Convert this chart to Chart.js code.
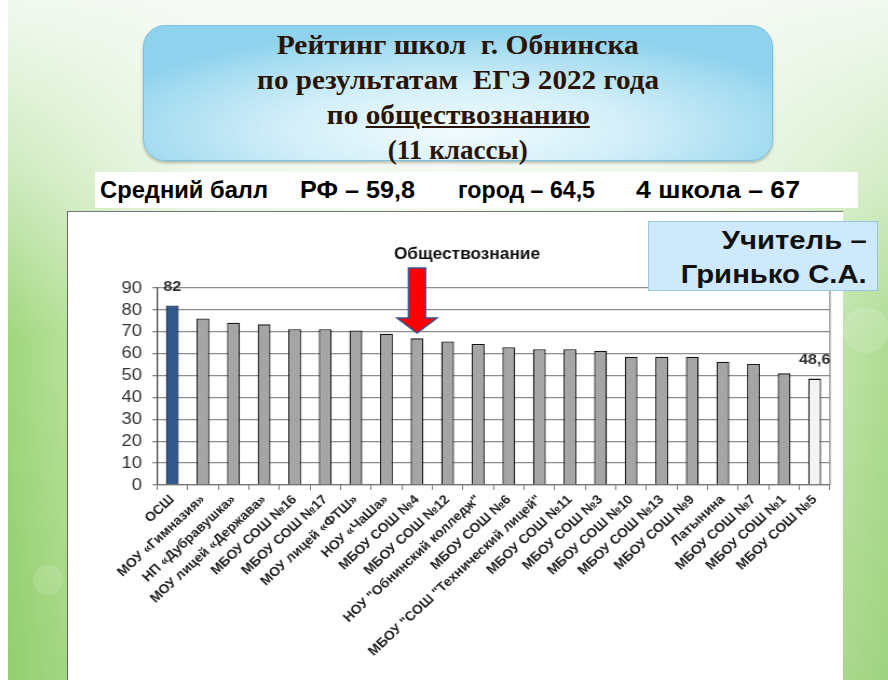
<!DOCTYPE html>
<html lang="ru"><head><meta charset="utf-8">
<script src="https://cdn.jsdelivr.net/npm/chart.js@4.4.0/dist/chart.umd.min.js"></script>
<style>
html,body{margin:0;padding:0}
body{width:888px;height:680px;overflow:hidden;position:relative;font-family:"Liberation Sans",Arial,sans-serif;
 background:
  radial-gradient(circle at 866px 330px, rgba(255,255,255,0.14) 0, rgba(255,255,255,0.14) 22px, rgba(255,255,255,0) 24px),
  radial-gradient(circle at 48px 580px, rgba(255,255,255,0.12) 0, rgba(255,255,255,0.12) 14px, rgba(255,255,255,0) 16px),
  linear-gradient(to bottom, rgba(246,251,246,0.95) 0%, rgba(246,251,246,0.55) 25%, rgba(246,251,246,0) 50%),
  linear-gradient(to top, rgba(110,185,70,0.25) 0%, rgba(110,185,70,0) 45%),
  linear-gradient(to right, #9bd578 0%, #b3df95 7%, #e4f3dc 22%, #f3f9f0 50%, #dff1d6 80%, #bfe4a8 94%, #aedc92 100%);}
#lstrip{position:absolute;left:0;top:0;width:8px;height:680px;background:#fff}
#header{position:absolute;left:143px;top:25px;width:630px;height:136px;border-radius:22px;box-sizing:border-box;
 border:1.5px solid #7cc2df;box-shadow:0 2px 3px rgba(0,0,0,0.25);
 background:radial-gradient(ellipse 60% 75% at 50% 78%, #f2fbfe 0%, #d3eff9 45%, #a3dbf1 85%, #8fd2ee 100%);
 font-family:"Liberation Serif","Times New Roman",serif;font-weight:bold;color:#2a1406;text-align:center}
#header .ln{position:absolute;left:0;width:100%;font-size:27px;line-height:35px;white-space:pre}
#sub{position:absolute;left:95px;top:172px;width:763px;height:36px;background:#fff}
#sub span{position:absolute;top:0;font-weight:bold;font-size:24px;line-height:36px;color:#000;white-space:pre;transform-origin:0 50%}
#chartbox{position:absolute;left:67px;top:211px;width:776px;height:469px;background:#fff;border-left:1.5px solid #666;border-top:1.5px solid #777;box-sizing:border-box}
#c{position:absolute;left:-1.5px;top:-0.5px;transform-origin:0 0}
#teacher{position:absolute;left:648px;top:221px;width:230px;height:70px;box-sizing:border-box;background:#cde9fb;border:1px solid #98c6e6}
#teacher span{position:absolute;right:10px;font-weight:bold;font-size:25px;color:#111;white-space:pre;transform-origin:100% 50%;line-height:28px}
</style></head>
<body>
<div id="lstrip"></div>
<div id="header">
 <div class="ln" style="top:2px"><span class="fit" data-w="362">Рейтинг школ  г. Обнинска</span></div>
 <div class="ln" style="top:37px"><span class="fit" data-w="402">по результатам  ЕГЭ 2022 года</span></div>
 <div class="ln" style="top:72px"><span class="fit" data-w="263">по <u>обществознанию</u></span></div>
 <div class="ln" style="top:107px"><span class="fit" data-w="140">(11 классы)</span></div>
</div>
<div id="sub">
 <span class="fit" data-w="168" style="left:5px">Средний балл</span>
 <span class="fit" data-w="115" style="left:205px">РФ – 59,8</span>
 <span class="fit" data-w="137" style="left:363px">город – 64,5</span>
 <span class="fit" data-w="164" style="left:541px">4 школа – 67</span>
</div>
<div id="chartbox"><canvas id="c" width="719" height="469"></canvas></div>
<div id="teacher">
 <span class="fit" data-w="145" style="top:4px">Учитель –</span>
 <span class="fit" data-w="186" style="top:38px">Гринько С.А.</span>
</div>
<script>
// ---- data ----
const categories = ['ОСШ','МОУ «Гимназия»','НП «Дубравушка»','МОУ лицей «Держава»','МБОУ СОШ №16','МБОУ СОШ №17',
  'МОУ лицей «ФТШ»','НОУ «ЧаШа»','МБОУ СОШ №4','МБОУ СОШ №12','НОУ "Обнинский колледж"','МБОУ СОШ №6',
  'МБОУ "СОШ "Технический лицей"','МБОУ СОШ №11','МБОУ СОШ №3','МБОУ СОШ №10','МБОУ СОШ №13','МБОУ СОШ №9',
  'Латынина','МБОУ СОШ №7','МБОУ СОШ №1','МБОУ СОШ №5'];
const scores = [82, 76.1, 74.1, 73.4, 71.2, 71.2, 70.6, 69.1, 67, 65.6, 64.4, 62.9, 62, 62, 61.3, 58.6, 58.6, 58.6, 56.3, 55.3, 51, 48.6];
const yTickValues = [0,10,20,30,40,50,60,70,80,90];
const labeledBars = [0, 21];
const arrowBar = 8;
const chartTitle = 'Обществознание';

// fit text widths
document.querySelectorAll('.fit').forEach(el=>{
  el.style.display='inline-block';
  const w = el.getBoundingClientRect().width;
  const t = parseFloat(el.dataset.w);
  el.style.transform = 'scaleX(' + (t/w) + ')';
});

const cv = document.getElementById('c');
const K = 776/cv.width; // horizontal stretch of chart picture
cv.style.transform = 'scaleX(' + K + ')';

const n = scores.length;
const fills = scores.map((v,i)=> i===0 ? '#31598b' : (i===n-1 ? '#f3f3f3' : '#a5a5a5'));
const strokes = scores.map((v,i)=> i===0 ? '#1c3152' : '#141414');
const FONT = '"Liberation Sans", Arial, sans-serif';

const overlay = {
  id:'overlay',
  afterDatasetsDraw(chart){
    const {ctx, chartArea:a, scales:{x,y}} = chart;
    ctx.save();
    ctx.strokeStyle='#8a8a8a'; ctx.lineWidth=1.3;
    ctx.beginPath(); ctx.moveTo(a.right, a.top); ctx.lineTo(a.right, a.bottom); ctx.stroke();
    ctx.font='bold 15px ' + FONT;
    ctx.fillStyle='#333'; ctx.textAlign='center'; ctx.textBaseline='alphabetic';
    labeledBars.forEach(i=>{
      ctx.fillText(String(scores[i]).replace('.', ','), x.getPixelForValue(i), y.getPixelForValue(scores[i]) - 15);
    });
    const cx = x.getPixelForValue(arrowBar);
    const t0 = a.top - 20, h0 = a.top + 30, tip = a.top + 45, sw = 7.9, hw = 18.5;
    ctx.beginPath();
    ctx.moveTo(cx-sw, t0); ctx.lineTo(cx+sw, t0); ctx.lineTo(cx+sw, h0); ctx.lineTo(cx+hw, h0);
    ctx.lineTo(cx, tip); ctx.lineTo(cx-hw, h0); ctx.lineTo(cx-sw, h0); ctx.closePath();
    ctx.fillStyle='#ff0000'; ctx.fill();
    ctx.strokeStyle='#34558f'; ctx.lineWidth=1.5; ctx.lineJoin='miter'; ctx.stroke();
    ctx.restore();
  }
};

new Chart(cv, {
  type:'bar',
  data:{ labels:categories, datasets:[{ data:scores, backgroundColor:fills, borderColor:strokes, borderWidth:1.3,
     barPercentage:0.42, categoryPercentage:1.0 }]},
  options:{
    responsive:false, animation:false, devicePixelRatio:1,
    layout:{padding:{left:34.3, right:12.1, top:0, bottom:0}},
    plugins:{
      legend:{display:false}, tooltip:{enabled:false},
      title:{display:true, text:chartTitle, color:'#111', font:{family:FONT, size:16, weight:'bold'}, padding:{top:33.4, bottom:23.4}}
    },
    scales:{
      y:{ min:0, max:90,
        afterBuildTicks:s=>{ s.ticks = yTickValues.map(v=>({value:v})); },
        afterFit:s=>{ s.width = 49.1; },
        ticks:{ autoSkip:false, color:'#333', padding:9.4, font:{family:FONT, size:17} },
        grid:{ color:'#8c8c8c', lineWidth:1.3, tickLength:4.5, drawTicks:true },
        border:{ display:true, color:'#444', width:1.3 }
      },
      x:{
        afterFit:s=>{ s.height = 196; },
        ticks:{ autoSkip:false, maxRotation:45, minRotation:45, color:'#222', padding:2,
          font:{family:FONT, size:13, weight:'bold'} },
        grid:{ display:true, drawOnChartArea:false, drawTicks:true, tickLength:5, color:'#777', offset:true },
        border:{ display:true, color:'#777', width:1.3 }
      }
    }
  },
  plugins:[overlay]
});
</script>
</body></html>
